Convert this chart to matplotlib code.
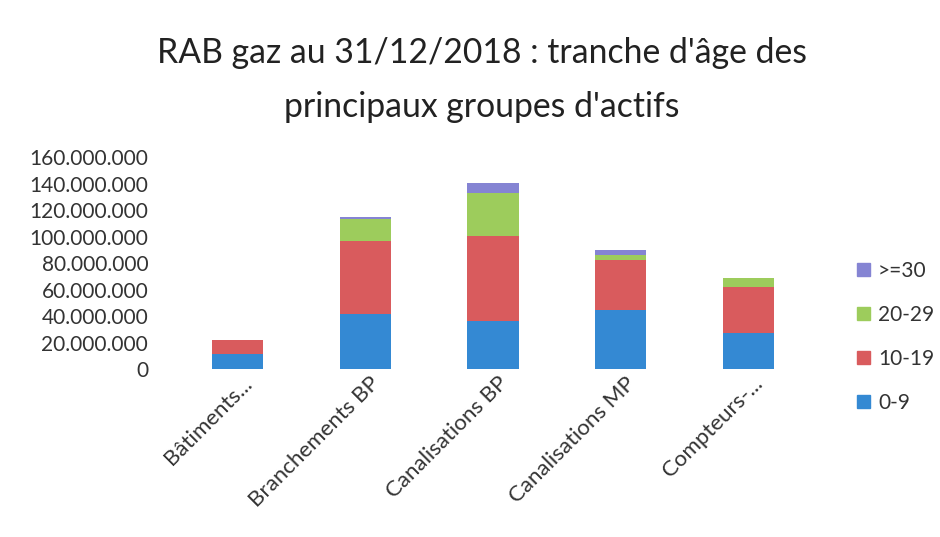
import numpy as np
import matplotlib.pyplot as plt
from matplotlib.patches import Patch
from matplotlib.ticker import FuncFormatter
from matplotlib.transforms import ScaledTranslation

plt.rcParams['font.family'] = ['Lato', 'DejaVu Sans']

# Data (values in euros)
categories = ['Bâtiments...', 'Branchements BP', 'Canalisations BP',
              'Canalisations MP', 'Compteurs-...']
age_0_9 = [11.5e6, 41.5e6, 36.2e6, 44.8e6, 27.4e6]
age_10_19 = [10.4e6, 55.3e6, 64.2e6, 37.5e6, 34.3e6]
age_20_29 = [0.0, 16.9e6, 33.0e6, 4.0e6, 6.8e6]
age_30_plus = [0.0, 1.5e6, 7.5e6, 4.0e6, 0.0]

title_lines = ["RAB gaz au 31/12/2018 : tranche d'âge des",
               "principaux groupes d'actifs"]

series = [('0-9', age_0_9, '#3489d3'),
          ('10-19', age_10_19, '#d95b5d'),
          ('20-29', age_20_29, '#9dcc5c'),
          ('>=30', age_30_plus, '#8584d3')]

fig = plt.figure(figsize=(9.4, 5.37), dpi=100)
ax = fig.add_axes([0.185, 0.3128, 0.679, 0.3942])

x = np.arange(len(categories))
bottom = np.zeros(len(categories))
for label, vals, color in series:
    ax.bar(x, vals, width=0.4, bottom=bottom, color=color, label=label)
    bottom += np.array(vals)

ax.set_xlim(-0.5, len(categories) - 0.5)
ax.set_ylim(0, 160e6)
ax.set_yticks(np.arange(0, 160e6 + 1, 20e6))
ax.yaxis.set_major_formatter(FuncFormatter(lambda v, p: f"{int(v):,}".replace(',', '.')))
ax.tick_params(axis='y', length=0, labelsize=15, colors='#333333', pad=18.5)
ax.tick_params(axis='x', length=0, labelsize=16, colors='#333333', pad=3)
ax.set_xticks(x)
ax.set_xticklabels(categories, rotation=45, ha='right', rotation_mode='anchor')

# shift rotated labels slightly to the right
offset = ScaledTranslation(4 / 100, 0, fig.dpi_scale_trans)
for lab in ax.get_xticklabels():
    lab.set_transform(lab.get_transform() + offset)

for s in ax.spines.values():
    s.set_visible(False)

# two-line title, placed by baseline
fig.text(0.513, 0.883, title_lines[0], fontsize=24.3, color='#222222',
         ha='center', va='baseline')
fig.text(0.513, 0.782, title_lines[1], fontsize=24.3, color='#222222',
         ha='center', va='baseline')

handles = [Patch(color=c) for _, _, c in series][::-1]
labels = [l for l, _, _ in series][::-1]
fig.legend(handles, labels, loc='center left', bbox_to_anchor=(0.892, 0.373),
           frameon=False, fontsize=15, handlelength=0.6, handleheight=0.6,
           handletextpad=0.4, labelspacing=1.15, labelcolor='#333333')

fig.savefig('out.png', dpi=100)
